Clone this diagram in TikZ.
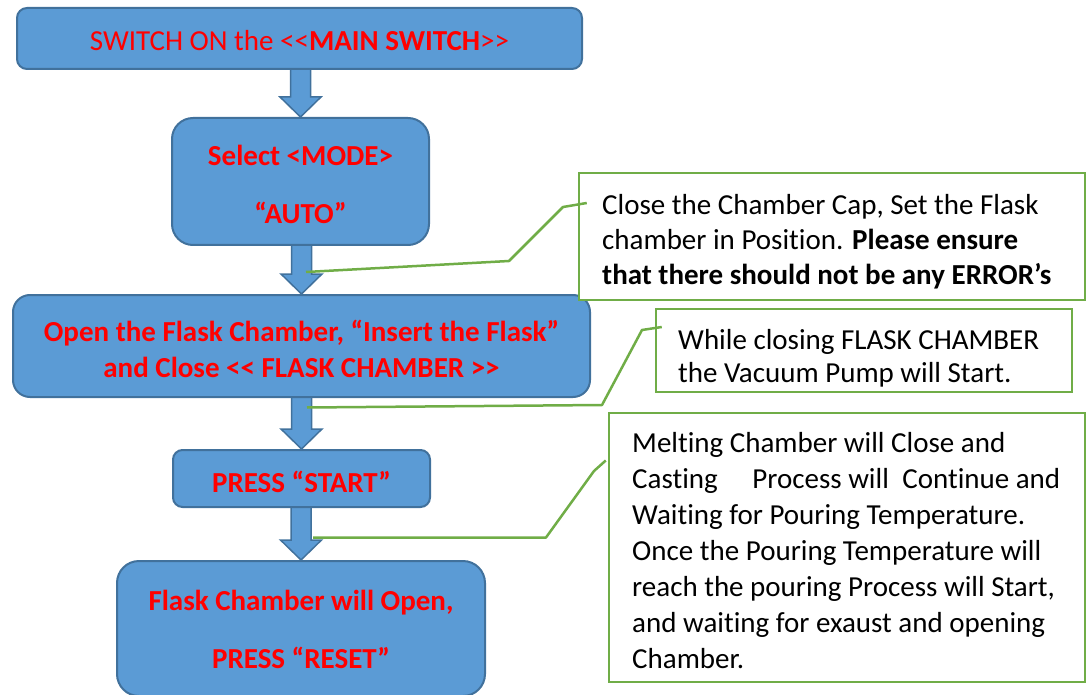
\documentclass[tikz,border=0pt]{standalone}
\usepackage{fontspec}
\setmainfont{Carlito}[Ligatures={TeX,NoCommon}]
\usetikzlibrary{calc}
\pgfdeclarelayer{background}
\pgfsetlayers{background,main}
\definecolor{boxblue}{HTML}{5B9BD5}
\definecolor{boxedge}{HTML}{41719C}
\definecolor{txtred}{HTML}{FF0000}
\definecolor{callgreen}{HTML}{70AD47}
\newcommand\dlt{<\kern0pt<}
\newcommand\dgt{>\kern0pt>}
\newcommand\blockarrow[2]{\draw[blockarr] let \p1=(#1.south), \p2=(#2.north) in
  (\x2-10pt,\y1+3pt) -- (\x2-10pt,\y2+20pt) -- (\x2-20.5pt,\y2+20pt) -- (\x2,\y2)
  -- (\x2+20.5pt,\y2+20pt) -- (\x2+10pt,\y2+20pt) -- (\x2+10pt,\y1+3pt) -- cycle;}
\begin{document}
\begin{tikzpicture}[x=1pt,y=-1pt,
  stepbox/.style={draw=boxedge, fill=boxblue, line width=2pt, inner sep=0pt},
  steptext/.style={text=txtred, inner sep=0pt, align=center},
  callout/.style={draw=callgreen, fill=white, line width=2.5pt, inner sep=0pt},
  calltext/.style={text=black, inner sep=0pt, align=left},
  pointer/.style={draw=callgreen, line width=2.5pt, line join=round},
  blockarr/.style={draw=boxedge, fill=boxblue, line width=1.5pt, line join=miter}]
\useasboundingbox (0,0) rectangle (1087,695);

% process boxes
\node[stepbox, minimum width=565pt, minimum height=61pt, rounded corners=10pt] (b1) at (299.5,38.5) {};
\node[stepbox, minimum width=257pt, minimum height=127pt, rounded corners=21pt] (b2) at (300.5,181.5) {};
\node[stepbox, minimum width=577pt, minimum height=102pt, rounded corners=17pt] (b3) at (301.5,346) {};
\node[stepbox, minimum width=257pt, minimum height=57pt, rounded corners=9.5pt] (b4) at (301.5,478.5) {};
\node[stepbox, minimum width=368pt, minimum height=135pt, rounded corners=22pt] (b5) at (301,628.5) {};

% box texts
\node[steptext, anchor=base, font=\fontsize{29}{36}\selectfont] (t1) at (299.5,50.5)
  {SWITCH ON the \dlt\textbf{MAIN SWITCH}\dgt};
\node[steptext, anchor=north, font=\fontsize{29}{58}\selectfont\bfseries] (t2) at (300.5,124.4)
  {\strut Select <MODE>\\“AUTO”};
\node[steptext, anchor=north, font=\fontsize{29}{36}\selectfont\bfseries] (t3) at (301.5,315.8)
  {\strut Open the Flask Chamber, “Insert the Flask”\\and Close \dlt{} FLASK CHAMBER \dgt};
\node[steptext, anchor=base, font=\fontsize{29}{36}\selectfont\bfseries] (t4) at (301.5,492.7)
  {PRESS “START”};
\node[steptext, anchor=north, font=\fontsize{29}{58}\selectfont\bfseries] (t5) at (301,569.4)
  {\strut Flask Chamber will Open,\\PRESS “RESET”};

% block arrows
\begin{pgfonlayer}{background}
\blockarrow{b1}{b2}
\blockarrow{b2}{b3}
\blockarrow{b3}{b4}
\blockarrow{b4}{b5}
\end{pgfonlayer}

% callouts
\node[callout, minimum width=506pt, minimum height=127pt] (c1) at (832,236.5) {};
\node[callout, minimum width=416pt, minimum height=83pt] (c2) at (864,350.5) {};
\node[callout, minimum width=476pt, minimum height=269pt] (c3) at (847,547.5) {};

\node[calltext, anchor=north west, font=\fontsize{29}{35}\selectfont] (ct1) at (602,189.5)
  {\strut Close the Chamber Cap, Set the Flask\\chamber in Position. \textbf{Please ensure}\\\textbf{that there should not be any ERROR’s}};
\node[calltext, anchor=north west, font=\fontsize{29}{33}\selectfont] (ct2) at (678,325.9)
  {\strut While closing FLASK CHAMBER\\the Vacuum Pump will Start.};
\node[calltext, anchor=north west, font=\fontsize{29}{36}\selectfont] (ct3) at (632,426.8)
  {\strut Melting Chamber will Close and\\Casting\hspace{34.6pt}Process will\hspace{13.4pt}Continue and\\Waiting for Pouring Temperature.\\Once the Pouring Temperature will\\reach the pouring Process will Start,\\and waiting for exaust and opening\\Chamber.};

% pointer lines
\coordinate (p1) at (306,272);
\coordinate (p2) at (307,407.5);
\coordinate (p3) at (313,537.5);
\draw[pointer] (p1) -- (509,261) -- (563,207) -- ($(c1.west)+(9,-33.5)$);
\draw[pointer] (p2) -- (602,405) -- (642,330) -- ($(c2.west)+(7,-23.5)$);
\draw[pointer] (p3) -- (546,537.5) -- (594,471) -- ($(c3.west)+(-2,-87)$);
\end{tikzpicture}
\end{document}
